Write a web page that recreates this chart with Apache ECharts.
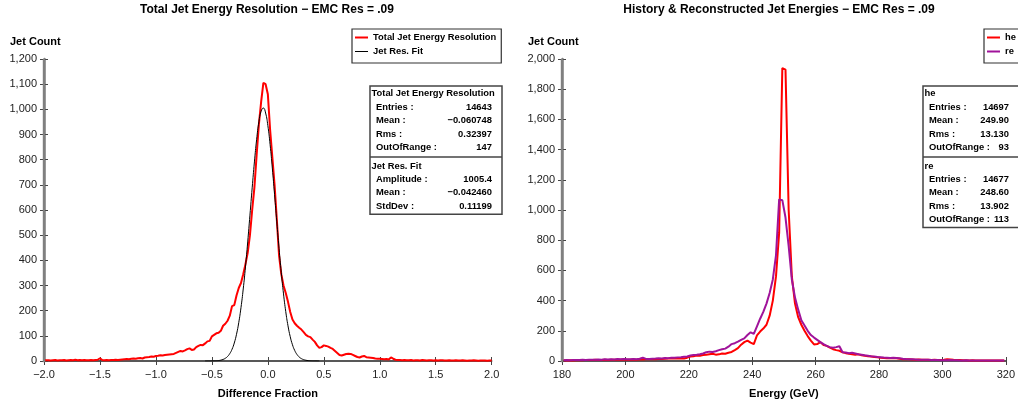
<!DOCTYPE html>
<html><head><meta charset="utf-8">
<script src="https://cdn.jsdelivr.net/npm/echarts@6/dist/echarts.min.js"></script>
<style>html,body{margin:0;padding:0;background:#fff}#c{width:1018px;height:404px}</style>
</head><body><div id="c"></div>
<script>
// ---------- Left panel: Total Jet Energy Resolution ----------
const resBinStart = -2.0, resBinStep = 0.02;   // bin centres -2.00 ... 2.00
const resCounts = [
  4,3,3,2,3,4,2,3,3,4,2,3,4,3,5,3,4,3,4,3,3,4,3,4,5,
  11,
  4,3,4,3,4,4,5,4,5,6,
  7,8,7,9,10,9,11,12,10,14,15,16,18,17,20,21,23,22,24,25,26,27,28,32,36,
  40,38,42,47,50,44,46,55,60,64,63,70,78,80,98,104,110,112,120,140,
  148,160,180,218,222,260,290,310,345,385,430,500,600,690,820,940,1030,1105,1100,1060,
  920,810,700,563,420,345,300,270,235,195,165,150,140,132,125,115,104,98,95,85,
  76,62,52,55,62,60,57,52,48,40,32,24,22,25,28,29,28,24,20,16,
  14,18,20,15,14,13,12,10,9,9,8,7,8,6,14,9,5,4,4,3,
  4,3,3,4,2,3,3,2,4,3,2,3,3,2,3,2,3,3,2,2,
  3,2,2,3,2,2,3,2,1,2,2,3,2,1,2,2,2,1,2,2
];
const fitX = [-0.56,-0.54,-0.52,-0.50,-0.48,-0.46,-0.44,-0.42,-0.40,-0.38,-0.36,-0.34,-0.32,-0.30,-0.28,-0.26,-0.24,-0.22,-0.20,-0.18,-0.16,-0.14,-0.12,-0.10,-0.08,-0.06,-0.04,-0.02,0.00,0.02,0.04,0.06,0.08,0.10,0.12,0.14,0.16,0.18,0.20,0.22,0.24,0.26,0.28,0.30,0.32,0.34,0.36,0.38,0.40,0.42,0.44,0.46];
const fitY = [0.02,0.05,0.11,0.24,0.49,0.96,1.84,3.42,6.15,10.7,18.0,29.5,46.6,71.4,106.1,152.4,212.2,286.1,373.8,473.0,579.6,688.1,791.1,881.0,950.5,993.1,1005.2,985.4,935.6,860.6,766.7,661.6,553.0,447.7,351.1,266.6,196.1,139.8,96.5,64.5,41.8,26.2,15.9,9.37,5.34,2.95,1.58,0.82,0.41,0.20,0.09,0.04];
const resStats = [['Entries :','14643'],['Mean :','\u22120.060748'],['Rms :','0.32397'],['OutOfRange :','147']];
const fitStats = [['Amplitude :','1005.4'],['Mean :','\u22120.042460'],['StdDev :','0.11199']];

// ---------- Right panel: History & Reconstructed Jet Energies ----------
const eBinStart = 180.5, eBinStep = 1;          // bin centres 180.5 ... 319.5 GeV
const heCounts = [
  5,4,5,4,5,6,5,6,7,6,8,7,6,8,7,9,8,9,8,10,
  9,8,10,9,11,10,12,11,13,12,14,13,15,16,18,16,17,18,16,22,
  30,32,36,35,40,42,45,48,42,44,
  50,48,55,60,72,85,108,125,135,122,
  112,170,195,215,240,300,400,560,850,1940,
  1930,1000,560,380,290,240,200,165,135,110,
  112,125,105,100,88,78,72,68,58,52,
  48,45,42,44,38,34,32,30,27,25,
  22,20,19,18,20,18,15,12,12,11,
  10,9,10,8,9,8,7,8,6,7,
  8,12,10,8,7,6,5,5,4,5,
  4,4,3,4,3,3,4,3,3,3
];
const reCounts = [
  5,6,5,6,7,6,8,7,8,9,8,10,9,11,10,12,10,13,12,14,
  12,11,13,12,15,22,14,13,15,16,18,17,20,19,22,21,24,25,28,30,
  36,40,42,45,50,58,62,60,65,72,
  78,82,95,112,118,128,140,150,172,190,
  180,230,280,325,380,450,540,700,1070,1065,
  950,760,540,420,340,270,235,200,172,155,
  140,125,112,100,92,88,92,98,58,56,
  52,55,50,45,42,38,35,32,30,27,
  25,23,22,20,22,20,18,15,13,12,
  11,10,9,9,8,8,7,6,6,5,
  5,5,6,5,5,4,4,5,4,4,
  4,4,3,4,3,3,4,3,3,3
];
const heStats = [['Entries :','14697'],['Mean :','249.90'],['Rms :','13.130'],['OutOfRange :','93']];
const reStats = [['Entries :','14677'],['Mean :','248.60'],['Rms :','13.902'],['OutOfRange :','113']];

// ---------- build ----------
const FONT = '"Liberation Sans", Arial, Helvetica, sans-serif';
const chart = echarts.init(document.getElementById('c'), null, {renderer: 'canvas'});

const GRID_L = {left: 44, top: 59, width: 447.7, height: 303.3};
const GRID_R = {left: 562, top: 59, width: 445.7, height: 303.3};

const resData = resCounts.map((v, i) => [+(resBinStart + i * resBinStep).toFixed(2), v]);
const fitData = fitX.map((x, i) => [x, fitY[i]]);
const heData = heCounts.map((v, i) => [eBinStart + i * eBinStep, v]);
const reData = reCounts.map((v, i) => [eBinStart + i * eBinStep, v]);

const minus = s => String(s).replace('-', '\u2212');
const fmt1 = v => minus(v.toFixed(1));
const fmtK = v => v.toLocaleString('en-US');

function xAxes(grid, min, max, interval, name, fmt) {
  return [{
    type: 'value', gridIndex: grid, min, max, interval, position: 'bottom',
    name, nameLocation: 'middle', nameGap: 27,
    nameTextStyle: {fontFamily: FONT, fontSize: 11, fontWeight: 'bold', color: '#000'},
    axisLine: {show: true, onZero: false, lineStyle: {color: '#222', width: 1.5}},
    axisTick: {show: true, inside: false, length: 4, lineStyle: {color: '#444', width: 1}},
    axisLabel: {show: true, margin: 8, fontFamily: FONT, fontSize: 11, color: '#222', formatter: fmt, hideOverlap: false},
    splitLine: {show: false}
  }, {
    type: 'value', gridIndex: grid, min, max, interval, position: 'bottom',
    axisLine: {show: false, onZero: false}, axisLabel: {show: false}, splitLine: {show: false},
    axisTick: {show: true, inside: true, length: 4, lineStyle: {color: '#444', width: 1}}
  }];
}
function yAxes(grid, max, interval) {
  return [{
    type: 'value', gridIndex: grid, min: 0, max, interval, position: 'left',
    axisLine: {show: true, onZero: false, lineStyle: {color: '#808080', width: 2.5}},
    axisTick: {show: true, inside: false, length: 4, lineStyle: {color: '#444', width: 1}},
    axisLabel: {show: true, margin: 7, fontFamily: FONT, fontSize: 11, color: '#222', formatter: fmtK, hideOverlap: false},
    splitLine: {show: false}
  }, {
    type: 'value', gridIndex: grid, min: 0, max, interval, position: 'left',
    axisLine: {show: false, onZero: false},
    axisLabel: {show: false}, splitLine: {show: false},
    axisTick: {show: true, inside: true, length: 4, lineStyle: {color: '#444', width: 1}}
  }];
}

const statFont = 'bold 9.4px ' + FONT;
function txt(x, y, text, align, font) {
  return {type: 'text', silent: true, z: 100,
    style: {x, y, text, font: font || statFont, fill: '#000', textAlign: align || 'left', textVerticalAlign: 'middle'}};
}
function statBox(x, w, title1, rows1, title2, rows2, valRight) {
  const top = 86, rowH = 13.3;
  const sec1H = 71, sec2H = (rows2.length + 1) * rowH + 4;
  const els = [];
  els.push({type: 'rect', silent: true, z: 99, shape: {x, y: top, width: w, height: sec1H + sec2H},
    style: {fill: '#fff', stroke: '#444', lineWidth: 1.5}});
  els.push({type: 'line', silent: true, z: 99, shape: {x1: x, y1: top + sec1H, x2: x + w, y2: top + sec1H},
    style: {stroke: '#444', lineWidth: 1.5}});
  els.push(txt(x + 1.5, top + 7.5, title1));
  rows1.forEach((r, i) => {
    els.push(txt(x + 6, top + 21.5 + i * rowH, r[0]));
    els.push(txt(valRight, top + 21.5 + i * rowH, r[1], 'right'));
  });
  els.push(txt(x + 1.5, top + sec1H + 9, title2));
  rows2.forEach((r, i) => {
    els.push(txt(x + 6, top + sec1H + 22.5 + i * rowH, r[0]));
    els.push(txt(valRight, top + sec1H + 22.5 + i * rowH, r[1], 'right'));
  });
  return els;
}
// left edge (vertical axis line) of a plotting grid, drawn as a thin filled bar on its own layer
function gridEdge(g) {
  return {type: 'rect', silent: true, zlevel: 1, z: 10,
    shape: {x: g.left - 1.2, y: g.top, width: 2.4, height: g.height},
    style: {fill: '#808080'}};
}

const titleFont = 'bold 12px ' + FONT;
const nameFont = 'bold 11px ' + FONT;
const graphics = [
  gridEdge(GRID_L), gridEdge(GRID_R),
  txt(267, 10, 'Total Jet Energy Resolution \u2212 EMC Res = .09', 'center', titleFont),
  txt(779, 10, 'History & Reconstructed Jet Energies \u2212 EMC Res = .09', 'center', titleFont),
  txt(10, 42, 'Jet Count', 'left', nameFont),
  txt(528, 42, 'Jet Count', 'left', nameFont)
].concat(
  statBox(370, 132, 'Total Jet Energy Resolution', resStats, 'Jet Res. Fit', fitStats, 492),
  statBox(923, 120, 'he', heStats, 're', reStats, 1009)
);

const thick = 'path://M0,0 H13 V2 H0 Z';
const thin = 'path://M0,0 H13 V1 H0 Z';
const legendCommon = {
  orient: 'vertical', top: 29, itemWidth: 13, itemHeight: 12, itemGap: 5,
  padding: [4, 5, 7, 3], backgroundColor: '#fff', borderColor: '#333', borderWidth: 1.2,
  textStyle: {fontFamily: FONT, fontSize: 9.4, fontWeight: 'bold', color: '#000'},
  selectedMode: false, z: 50
};

chart.setOption({
  animation: false,
  backgroundColor: '#fff',
  grid: [GRID_L, GRID_R],
  xAxis: [].concat(
    xAxes(0, -2, 2, 0.5, 'Difference Fraction', fmt1),
    xAxes(1, 180, 320, 20, 'Energy (GeV)', v => String(v))
  ),
  yAxis: [].concat(yAxes(0, 1200, 100), yAxes(1, 2000, 200)),
  legend: [
    Object.assign({}, legendCommon, {left: 352, data: [
      {name: 'Total Jet Energy Resolution', icon: thick}, {name: 'Jet Res. Fit', icon: thin}]}),
    Object.assign({}, legendCommon, {left: 984, data: [
      {name: 'he', icon: thick}, {name: 're', icon: thick}]})
  ],
  series: [
    {name: 'Total Jet Energy Resolution', type: 'line', xAxisIndex: 0, yAxisIndex: 0, data: resData,
      symbol: 'none', z: 2, lineStyle: {color: '#ff0000', width: 2}, itemStyle: {color: '#ff0000'}},
    {name: 'Jet Res. Fit', type: 'line', xAxisIndex: 0, yAxisIndex: 0, data: fitData, smooth: true,
      symbol: 'none', z: 3, lineStyle: {color: '#000', width: 1}, itemStyle: {color: '#000'}},
    {name: 'he', type: 'line', xAxisIndex: 2, yAxisIndex: 2, data: heData,
      symbol: 'none', z: 2, lineStyle: {color: '#ff0000', width: 2}, itemStyle: {color: '#ff0000'}},
    {name: 're', type: 'line', xAxisIndex: 2, yAxisIndex: 2, data: reData,
      symbol: 'none', z: 3, lineStyle: {color: '#a0139a', width: 2}, itemStyle: {color: '#a0139a'}}
  ],
  graphic: graphics
});
</script>
</body></html>
